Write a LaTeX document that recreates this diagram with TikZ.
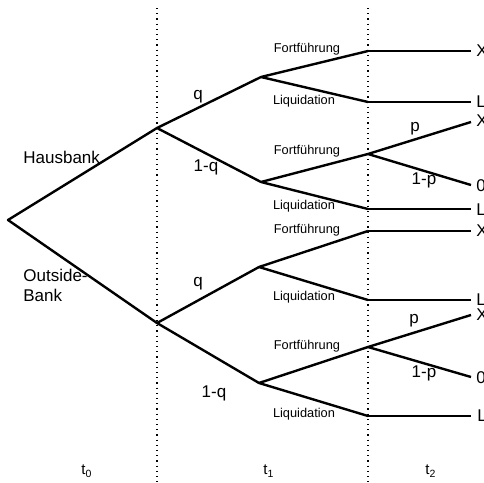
\documentclass[tikz,border=0pt]{standalone}
\usepackage{fontspec}
\setmainfont{Liberation Sans}
\begin{document}
\begin{tikzpicture}[x=0.5pt,y=-0.5pt,
  branch/.style={line width=1.2pt,line join=round},
  guide/.style={line width=0.6pt,dotted},
  big/.style={font=\fontsize{8.5}{10}\selectfont,inner sep=0pt},
  small/.style={font=\fontsize{6.4}{7.5}\selectfont,inner sep=0pt},
  endlbl/.style={font=\fontsize{8.5}{10}\selectfont,inner sep=0pt,anchor=west},
  tlbl/.style={font=\fontsize{7.5}{9}\selectfont,inner sep=0pt}]
\useasboundingbox (0,0) rectangle (484,483);
% guide lines
\coordinate (g1t) at (157,8); \coordinate (g1b) at (157,483);
\coordinate (g2t) at (368,8); \coordinate (g2b) at (368,483);
\draw[guide] (g1t) -- (g1b);
\draw[guide] (g2t) -- (g2b);
% tree points
\coordinate (r) at (8,220);
\coordinate (hb) at (157,128);
\coordinate (ob) at (157,323);
\coordinate (a1) at (261,77);
\coordinate (a2) at (261,182);
\coordinate (a3) at (259,267);
\coordinate (a4) at (259,383);
\coordinate (b1) at (368,51);
\coordinate (b2) at (368,102);
\coordinate (b3) at (368,154);
\coordinate (b4) at (368,209);
\coordinate (b5) at (368,231);
\coordinate (b6) at (368,300);
\coordinate (b7) at (368,347);
\coordinate (b8) at (368,416);
\coordinate (e1) at (471,51);
\coordinate (e2) at (471,102);
\coordinate (e3u) at (471,122);
\coordinate (e3d) at (471,185);
\coordinate (e4) at (471,209);
\coordinate (e5) at (471,231);
\coordinate (e6) at (471,300);
\coordinate (e7u) at (471,315);
\coordinate (e7d) at (471,377);
\coordinate (e8) at (471,416);
% branches
\draw[branch] (hb) -- (r) -- (ob);
\draw[branch] (a1) -- (hb) -- (a2);
\draw[branch] (a3) -- (ob) -- (a4);
\draw[branch] (b1) -- (a1) -- (b2);
\draw[branch] (b3) -- (a2) -- (b4);
\draw[branch] (b5) -- (a3) -- (b6);
\draw[branch] (b7) -- (a4) -- (b8);
\draw[branch] (b1) -- (e1);
\draw[branch] (b2) -- (e2);
\draw[branch] (e3u) -- (b3) -- (e3d);
\draw[branch] (b4) -- (e4);
\draw[branch] (b5) -- (e5);
\draw[branch] (b6) -- (e6);
\draw[branch] (e7u) -- (b7) -- (e7d);
\draw[branch] (b8) -- (e8);
% labels
\node[big,anchor=west] (lhb) at (23,157) {Hausbank};
\node[big,anchor=west,align=left] (lob) at (23,285) {Outside-\\Bank};
\node[big] (q1) at (198,97) {q};
\node[big] (q2) at (206,167) {1-q};
\node[big] (q3) at (198,284) {q};
\node[big] (q4) at (214,393) {1-q};
\node[big] (p1) at (415,129) {p};
\node[big] (p2) at (424,180) {1-p};
\node[big] (p3) at (414,321) {p};
\node[big] (p4) at (424,373) {1-p};
\node[small] (f1) at (307,49) {Fortführung};
\node[small] (l1) at (304,101) {Liquidation};
\node[small] (f2) at (307,151) {Fortführung};
\node[small] (l2) at (304,206) {Liquidation};
\node[small] (f3) at (307,230) {Fortführung};
\node[small] (l3) at (304,297) {Liquidation};
\node[small] (f4) at (307,346) {Fortführung};
\node[small] (l4) at (304,414) {Liquidation};
\node[endlbl] (x1) at (476,51) {X};
\node[endlbl] (x2) at (476,102) {L};
\node[endlbl] (x3) at (476,121) {X};
\node[endlbl] (x4) at (476,186) {0};
\node[endlbl] (x5) at (476,210) {L};
\node[endlbl] (x6) at (476,231) {X};
\node[endlbl] (x7) at (476,300) {L};
\node[endlbl] (x8) at (476,315) {X};
\node[endlbl] (x9) at (476,378) {0};
\node[endlbl] (x10) at (477,416) {L};
\node[tlbl] (t0) at (87,471) {t\textsubscript{0}};
\node[tlbl] (t1) at (269,471) {t\textsubscript{1}};
\node[tlbl] (t2) at (431,471) {t\textsubscript{2}};
\end{tikzpicture}
\end{document}
